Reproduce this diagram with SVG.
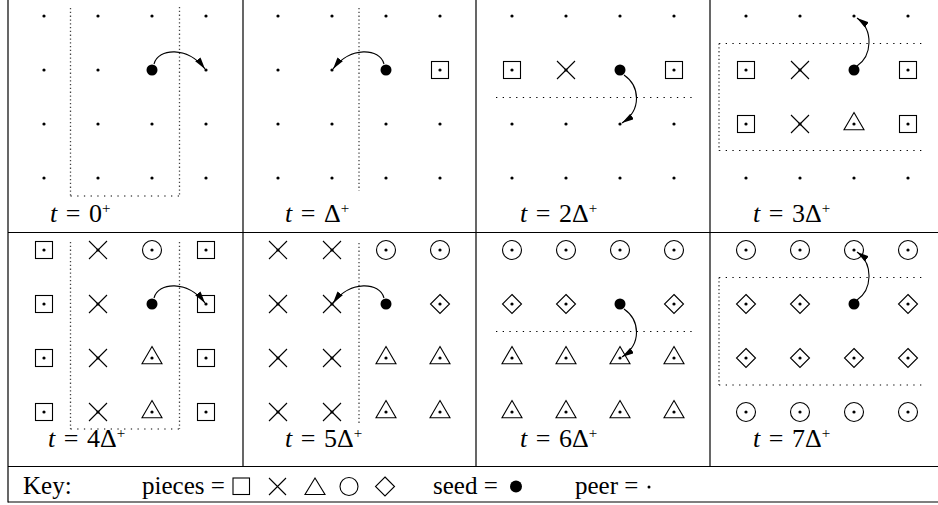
<svg xmlns="http://www.w3.org/2000/svg" xmlns:xlink="http://www.w3.org/1999/xlink" width="938" height="505" viewBox="0 0 938 505">
<style>
.frame{stroke:#000;stroke-width:1.2;fill:none}
.o{fill:none;stroke:#000;stroke-width:1.1}
.dv{fill:none;stroke:#444;stroke-width:1.3;stroke-dasharray:1.3 2.5}
.dh{fill:none;stroke:#000;stroke-width:1.1;stroke-dasharray:1.3 5.4}
.arr{fill:none;stroke:#000;stroke-width:1.1;marker-end:url(#ah)}
text{font-family:"Liberation Serif","Times New Roman",serif;font-size:25px;fill:#000}
.lbl{font-size:26px;word-spacing:2px}
.it{font-style:italic}
.sup{font-size:15px}
</style>
<defs>
<marker id="ah" markerWidth="13" markerHeight="8" refX="12" refY="3.3" orient="auto" markerUnits="userSpaceOnUse"><path d="M0,0 L12,3.3 L0,6.6 z" fill="#000"/></marker>
<g id="pd"><circle r="1.6" fill="#000"/></g>
<g id="seed"><circle r="5.5" fill="#000"/></g>
<g id="sq"><rect x="-8.5" y="-8.5" width="17" height="17" class="o"/><circle r="1.6" fill="#000"/></g>
<g id="xx"><path d="M-9,-9 L9,9 M9,-9 L-9,9" class="o"/><circle r="1.6" fill="#000"/></g>
<g id="tri"><path d="M0,-11.5 L10,5.8 L-10,5.8 Z" class="o"/><circle r="1.6" fill="#000"/></g>
<g id="ci"><circle r="9.5" class="o"/><circle r="1.6" fill="#000"/></g>
<g id="di"><path d="M0,-9.5 L9.5,0 L0,9.5 L-9.5,0 Z" class="o"/><circle r="1.6" fill="#000"/></g>
</defs>
<rect width="938" height="505" fill="#fff"/>
<g id="frame">
<line class="frame" x1="8" y1="0" x2="8" y2="502.5"/>
<line class="frame" x1="243" y1="0" x2="243" y2="466.5"/>
<line class="frame" x1="476" y1="0" x2="476" y2="466.5"/>
<line class="frame" x1="710" y1="0" x2="710" y2="466.5"/>
<line class="frame" x1="8" y1="232.5" x2="938" y2="232.5"/>
<line class="frame" x1="8" y1="466.5" x2="938" y2="466.5"/>
<line class="frame" x1="8" y1="502" x2="938" y2="502"/>
</g>
<g id="panel1">
<path class="dv" d="M70.5,8 V196 M179.5,7 V196"/><path class="dh" d="M70.5,196 H179.5"/>
<use href="#pd" x="44" y="16"/><use href="#pd" x="98" y="16"/><use href="#pd" x="152" y="16"/><use href="#pd" x="206" y="16"/>
<use href="#pd" x="44" y="70"/><use href="#pd" x="98" y="70"/><use href="#seed" x="152" y="70"/><use href="#pd" x="206" y="70"/>
<use href="#pd" x="44" y="124"/><use href="#pd" x="98" y="124"/><use href="#pd" x="152" y="124"/><use href="#pd" x="206" y="124"/>
<use href="#pd" x="44" y="178"/><use href="#pd" x="98" y="178"/><use href="#pd" x="152" y="178"/><use href="#pd" x="206" y="178"/>
<text class="lbl" x="50" y="222"><tspan class="it">t</tspan> = 0<tspan class="sup" dy="-9">+</tspan></text>
</g>
<g id="panel2">
<path class="dv" d="M359,8 V191"/>
<use href="#pd" x="278" y="16"/><use href="#pd" x="332" y="16"/><use href="#pd" x="386" y="16"/><use href="#pd" x="440" y="16"/>
<use href="#pd" x="278" y="70"/><use href="#pd" x="332" y="70"/><use href="#seed" x="386" y="70"/><use href="#sq" x="440" y="70"/>
<use href="#pd" x="278" y="124"/><use href="#pd" x="332" y="124"/><use href="#pd" x="386" y="124"/><use href="#pd" x="440" y="124"/>
<use href="#pd" x="278" y="178"/><use href="#pd" x="332" y="178"/><use href="#pd" x="386" y="178"/><use href="#pd" x="440" y="178"/>
<text class="lbl" x="285" y="222"><tspan class="it">t</tspan> = Δ<tspan class="sup" dy="-9">+</tspan></text>
</g>
<g id="panel3">
<path class="dh" d="M496,97.5 H692"/>
<use href="#pd" x="512" y="16"/><use href="#pd" x="566" y="16"/><use href="#pd" x="620" y="16"/><use href="#pd" x="674" y="16"/>
<use href="#sq" x="512" y="70"/><use href="#xx" x="566" y="70"/><use href="#seed" x="620" y="70"/><use href="#sq" x="674" y="70"/>
<use href="#pd" x="512" y="124"/><use href="#pd" x="566" y="124"/><use href="#pd" x="620" y="124"/><use href="#pd" x="674" y="124"/>
<use href="#pd" x="512" y="178"/><use href="#pd" x="566" y="178"/><use href="#pd" x="620" y="178"/><use href="#pd" x="674" y="178"/>
<text class="lbl" x="520" y="222"><tspan class="it">t</tspan> = 2Δ<tspan class="sup" dy="-9">+</tspan></text>
</g>
<g id="panel4">
<path class="dh" d="M719,43.5 H925 M719,150.5 H925"/><path class="dv" d="M719,43.5 V150.5"/>
<use href="#pd" x="746" y="16"/><use href="#pd" x="800" y="16"/><use href="#pd" x="854" y="16"/><use href="#pd" x="908" y="16"/>
<use href="#sq" x="746" y="70"/><use href="#xx" x="800" y="70"/><use href="#seed" x="854" y="70"/><use href="#sq" x="908" y="70"/>
<use href="#sq" x="746" y="124"/><use href="#xx" x="800" y="124"/><use href="#tri" x="854" y="124"/><use href="#sq" x="908" y="124"/>
<use href="#pd" x="746" y="178"/><use href="#pd" x="800" y="178"/><use href="#pd" x="854" y="178"/><use href="#pd" x="908" y="178"/>
<text class="lbl" x="753" y="222"><tspan class="it">t</tspan> = 3Δ<tspan class="sup" dy="-9">+</tspan></text>
</g>
<g id="panel5">
<path class="dv" d="M70.5,242 V429 M179.5,242 V429"/><path class="dh" d="M70.5,429 H179.5"/>
<use href="#sq" x="44" y="250"/><use href="#xx" x="98" y="250"/><use href="#ci" x="152" y="250"/><use href="#sq" x="206" y="250"/>
<use href="#sq" x="44" y="304"/><use href="#xx" x="98" y="304"/><use href="#seed" x="152" y="304"/><use href="#sq" x="206" y="304"/>
<use href="#sq" x="44" y="358"/><use href="#xx" x="98" y="358"/><use href="#tri" x="152" y="358"/><use href="#sq" x="206" y="358"/>
<use href="#sq" x="44" y="412"/><use href="#xx" x="98" y="412"/><use href="#tri" x="152" y="412"/><use href="#sq" x="206" y="412"/>
<text class="lbl" x="48" y="447"><tspan class="it">t</tspan> = 4Δ<tspan class="sup" dy="-9">+</tspan></text>
</g>
<g id="panel6">
<path class="dv" d="M359,243 V425"/>
<use href="#xx" x="278" y="250"/><use href="#xx" x="332" y="250"/><use href="#ci" x="386" y="250"/><use href="#ci" x="440" y="250"/>
<use href="#xx" x="278" y="304"/><use href="#xx" x="332" y="304"/><use href="#seed" x="386" y="304"/><use href="#di" x="440" y="304"/>
<use href="#xx" x="278" y="358"/><use href="#xx" x="332" y="358"/><use href="#tri" x="386" y="358"/><use href="#tri" x="440" y="358"/>
<use href="#xx" x="278" y="412"/><use href="#xx" x="332" y="412"/><use href="#tri" x="386" y="412"/><use href="#tri" x="440" y="412"/>
<text class="lbl" x="285" y="447"><tspan class="it">t</tspan> = 5Δ<tspan class="sup" dy="-9">+</tspan></text>
</g>
<g id="panel7">
<path class="dh" d="M496,331.5 H692"/>
<use href="#ci" x="512" y="250"/><use href="#ci" x="566" y="250"/><use href="#ci" x="620" y="250"/><use href="#ci" x="674" y="250"/>
<use href="#di" x="512" y="304"/><use href="#di" x="566" y="304"/><use href="#seed" x="620" y="304"/><use href="#di" x="674" y="304"/>
<use href="#tri" x="512" y="358"/><use href="#tri" x="566" y="358"/><use href="#tri" x="620" y="358"/><use href="#tri" x="674" y="358"/>
<use href="#tri" x="512" y="412"/><use href="#tri" x="566" y="412"/><use href="#tri" x="620" y="412"/><use href="#tri" x="674" y="412"/>
<text class="lbl" x="520" y="447"><tspan class="it">t</tspan> = 6Δ<tspan class="sup" dy="-9">+</tspan></text>
</g>
<g id="panel8">
<path class="dh" d="M719,277.5 H925 M719,385 H925"/><path class="dv" d="M719,277.5 V385"/>
<use href="#ci" x="746" y="250"/><use href="#ci" x="800" y="250"/><use href="#ci" x="854" y="250"/><use href="#ci" x="908" y="250"/>
<use href="#di" x="746" y="304"/><use href="#di" x="800" y="304"/><use href="#seed" x="854" y="304"/><use href="#di" x="908" y="304"/>
<use href="#di" x="746" y="358"/><use href="#di" x="800" y="358"/><use href="#di" x="854" y="358"/><use href="#di" x="908" y="358"/>
<use href="#ci" x="746" y="412"/><use href="#ci" x="800" y="412"/><use href="#ci" x="854" y="412"/><use href="#ci" x="908" y="412"/>
<text class="lbl" x="753" y="447"><tspan class="it">t</tspan> = 7Δ<tspan class="sup" dy="-9">+</tspan></text>
</g>
<g id="connectors">
<path class="arr" d="M154,64 C158,48 188,46 205,69"/>
<path class="arr" d="M384,64 C380,48 350,46 333,69"/>
<path class="arr" d="M624,75 C640,86 642,110 622,123"/>
<path class="arr" d="M857,66 C872,56 874,30 857,18"/>
<path class="arr" d="M154,298 C158,282 188,280 205,303"/>
<path class="arr" d="M384,298 C380,282 350,280 333,303"/>
<path class="arr" d="M624,309 C640,320 642,344 622,357"/>
<path class="arr" d="M857,300 C872,290 874,264 857,252"/>
</g>
<g id="key">
<text x="23" y="494">Key:</text>
<text x="142" y="494">pieces =</text>
<rect x="233" y="478" width="16.5" height="16.5" class="o"/>
<path d="M269,478 L286,495 M286,478 L269,495" class="o"/>
<path d="M315,478 L325,494.5 L305,494.5 Z" class="o"/>
<circle cx="349" cy="486.5" r="9" class="o"/>
<path d="M385,477 L394.5,486.5 L385,496 L375.5,486.5 Z" class="o"/>
<text x="433" y="494">seed =</text>
<circle cx="516" cy="486.5" r="6" fill="#000"/>
<text x="575" y="494">peer =</text>
<circle cx="649" cy="487" r="1.5" fill="#000"/>
</g>
</svg>
